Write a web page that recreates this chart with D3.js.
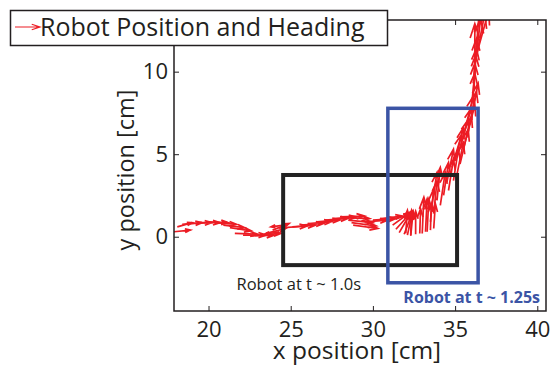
<!DOCTYPE html>
<html>
<head>
<meta charset="utf-8">
<script src="https://cdn.jsdelivr.net/npm/d3@7"></script>
<style>
  body { margin: 0; background: #fff; }
  svg { display: block; font-family: "Open Sans", Lato, sans-serif; }
</style>
</head>
<body>
<div id="chart"></div>
<script>
// axis setup
const xDomain = [17.9, 40.53];
const yDomain = [-4.5, 13.13];
const xTicks = [20, 25, 30, 35, 40];
const yTicks = [0, 5, 10];

// quiver: start position and heading vector (cm)
const qx = [17.9, 18.1, 18.4, 18.9, 19.4, 19.9, 20.4, 20.9, 21.3,
  21.6, 22.1, 22.6, 23.1, 23.5, 23.9, 24.6, 24.3,
  24.6, 25.1, 25.6, 26.1, 26.6, 27.1,
  27.6, 28.0, 28.3, 28.5, 28.7, 28.8, 29.5, 30.0, 30.5,
  31.0, 31.2, 31.4, 31.6, 31.9, 32.1, 32.3,
  32.0, 32.3, 32.6, 32.85, 33.0, 33.2, 33.5, 33.7,
  33.3, 33.5, 33.7, 33.6, 33.9, 34.1, 34.3, 34.6, 34.5, 34.9, 35.1,
  34.8, 35.0, 35.3, 35.2, 35.5, 35.4, 35.7, 35.6, 35.9, 36.0,
  36.0, 36.1, 36.15, 36.1, 36.2,
  36.2, 36.25, 36.3, 36.35, 36.3];
const qy = [0.3, 0.6, 0.75, 0.8, 0.85, 0.9, 0.85, 0.7, 0.55,
  0.2, 0.1, 0.05, 0.1, 0.2, 0.4, 0.7, 0.3,
  0.55, 0.6, 0.7, 0.8, 0.9, 1.0,
  1.1, 1.2, 1.15, 1.0, 0.85, 0.7, 0.9, 1.0, 1.1,
  1.0, 0.7, 0.45, 0.25, 0.15, 0.1, 0.05,
  0.2, 0.1, 0.15, 0.2, 0.2, 0.3, 0.4, 0.5,
  0.3, 0.9, 1.4, 2.0, 2.2, 1.9, 2.5, 2.8, 3.3, 3.4, 3.7,
  4.2, 4.6, 4.4, 5.1, 5.3, 5.8, 6.0, 6.5, 6.8, 7.3,
  7.9, 8.4, 8.9, 9.3, 9.8,
  10.3, 10.6, 10.9, 11.2, 11.5];
const qu = [1.0, 0.9, 1.2, 1.3, 1.3, 1.3, 1.3, 1.3, 1.3,
  1.4, 1.4, 1.4, 1.3, 1.2, 1.0, -0.8, -0.9,
  1.4, 1.4, 1.4, 1.4, 1.4, 1.4,
  1.4, 1.5, 1.5, 1.5, 1.5, 1.5, 1.4, 1.4, 1.3,
  1.3, 1.1, 0.9, 0.7, 0.5, 0.3, 0.15,
  0.1, 0.05, 0.0, 0.05, 0.1, 0.1, 0.05, 0.1,
  0.1, 0.2, 0.2, 0.3, 0.2, 0.3, 0.3, 0.3, 0.4, 0.3, 0.4,
  0.6, 0.5, 0.5, 0.6, 0.5, 0.6, 0.5, 0.5, 0.4, 0.4,
  0.2, 0.1, 0.1, 0.2, 0.1,
  0.0, 0.3, 0.5, 0.7, 0.2];
const qv = [0.1, 0.25, 0.1, 0.05, 0.0, -0.05, -0.1, -0.15, -0.2,
  -0.05, 0.0, 0.05, 0.1, 0.3, 0.4, -0.1, -0.15,
  0.1, 0.1, 0.1, 0.12, 0.12, 0.12,
  0.1, 0.05, -0.05, -0.15, -0.2, -0.2, 0.1, 0.1, 0.15,
  0.35, 0.8, 1.0, 1.2, 1.3, 1.4, 1.5,
  1.4, 1.5, 1.4, 1.5, 2.2, 2.0, 1.6, 1.5,
  2.0, 2.0, 2.0, 1.9, 2.0, 2.0, 2.0, 1.9, 2.0, 1.9, 2.0,
  2.0, 2.0, 2.1, 2.0, 2.0, 2.0, 2.0, 2.0, 2.0, 2.0,
  2.0, 2.1, 2.1, 2.1, 2.2,
  2.6, 2.6, 2.6, 2.5, 2.5];

// highlighted robot footprints [x0, x1, y0, y1]
const boxBlack = [24.54, 35.12, -1.72, 3.74];
const boxBlue = [30.91, 36.4, -2.79, 7.78];

const W = 553, H = 366;
const margin = {top: 20, right: 7, bottom: 55, left: 174};
const red = '#ec1c24', blue = '#3b54a5', ink = '#231f20';

const svg = d3.select('#chart').append('svg')
  .attr('width', W).attr('height', H);

const x = d3.scaleLinear().domain(xDomain).range([margin.left, W - margin.right]);
const y = d3.scaleLinear().domain(yDomain).range([H - margin.bottom, margin.top]);

svg.append('clipPath').attr('id', 'plot')
  .append('rect')
  .attr('x', x.range()[0]).attr('y', y.range()[1])
  .attr('width', x.range()[1] - x.range()[0])
  .attr('height', y.range()[0] - y.range()[1]);

// arrows, matlab-quiver style heads
function arrowPath(x0, y0, x1, y1) {
  const dx = x1 - x0, dy = y1 - y0;
  const a = 0.33, b = 0.33;
  const h1x = x1 - a * (dx + b * dy), h1y = y1 - a * (dy - b * dx);
  const h2x = x1 - a * (dx - b * dy), h2y = y1 - a * (dy + b * dx);
  return `M${x0},${y0}L${x1},${y1}M${h1x},${h1y}L${x1},${y1}L${h2x},${h2y}`;
}

const arrows = qx.map((d, i) => ({x: d, y: qy[i], u: qu[i], v: qv[i]}));

svg.append('g').attr('clip-path', 'url(#plot)')
  .selectAll('path')
  .data(arrows)
  .enter()
  .append('path')
  .attr('d', d => arrowPath(x(d.x), y(d.y), x(d.x + d.u), y(d.y + d.v)))
  .attr('fill', 'none')
  .attr('stroke', red)
  .attr('stroke-width', 1.7);

// footprint boxes
function drawBox(b, color, w) {
  svg.append('rect')
    .attr('x', x(b[0])).attr('y', y(b[3]))
    .attr('width', x(b[1]) - x(b[0]))
    .attr('height', y(b[2]) - y(b[3]))
    .attr('fill', 'none')
    .attr('stroke', color)
    .attr('stroke-width', w);
}
drawBox(boxBlack, '#222', 4);
drawBox(boxBlue, blue, 3.5);

svg.append('text')
  .attr('x', x(21.7)).attr('y', y(-3.2))
  .attr('font-size', 16.5).attr('fill', ink)
  .text('Robot at t ~ 1.0s');
svg.append('text')
  .attr('x', x(31.85)).attr('y', y(-4.0))
  .attr('font-size', 16).attr('font-weight', 'bold').attr('fill', blue)
  .text('Robot at t ~ 1.25s');

// axes with inward ticks on all four sides
svg.append('g')
  .attr('transform', `translate(0,${y.range()[0]})`)
  .call(d3.axisBottom(x).tickValues(xTicks).tickSize(-5).tickPadding(10));
svg.append('g')
  .attr('transform', `translate(${x.range()[0]},0)`)
  .call(d3.axisLeft(y).tickValues(yTicks).tickSize(-5).tickPadding(6));
svg.append('g')
  .attr('transform', `translate(0,${y.range()[1]})`)
  .call(d3.axisTop(x).tickValues(xTicks).tickSize(-5).tickFormat(''));
svg.append('g')
  .attr('transform', `translate(${x.range()[1]},0)`)
  .call(d3.axisRight(y).tickValues(yTicks).tickSize(-5).tickFormat(''));

svg.selectAll('.domain').remove();
svg.selectAll('.tick line').attr('stroke', ink).attr('stroke-width', 1);
svg.selectAll('.tick text').attr('fill', ink).attr('font-size', 22)
  .attr('font-family', '"Open Sans", sans-serif');

svg.append('rect')
  .attr('x', x.range()[0]).attr('y', y.range()[1])
  .attr('width', x.range()[1] - x.range()[0])
  .attr('height', y.range()[0] - y.range()[1])
  .attr('fill', 'none').attr('stroke', ink).attr('stroke-width', 1.5);

svg.append('text')
  .attr('x', 357).attr('y', 359)
  .attr('text-anchor', 'middle').attr('font-size', 24.5).attr('fill', ink)
  .text('x position [cm]');
svg.append('text')
  .attr('transform', `translate(134,170) rotate(-90)`)
  .attr('text-anchor', 'middle').attr('font-size', 23.5).attr('fill', ink)
  .text('y position [cm]');

// legend
const lg = svg.append('g');
lg.append('rect')
  .attr('x', 10.5).attr('y', 10.5).attr('width', 377).attr('height', 35)
  .attr('fill', '#fff').attr('stroke', ink).attr('stroke-width', 1.5);
lg.append('path')
  .attr('d', arrowPath(15, 27, 40, 27))
  .attr('fill', 'none').attr('stroke', red).attr('stroke-width', 1.2);
lg.append('text')
  .attr('x', 40).attr('y', 36)
  .attr('font-size', 25).attr('fill', ink)
  .text('Robot Position and Heading');
</script>
</body>
</html>
